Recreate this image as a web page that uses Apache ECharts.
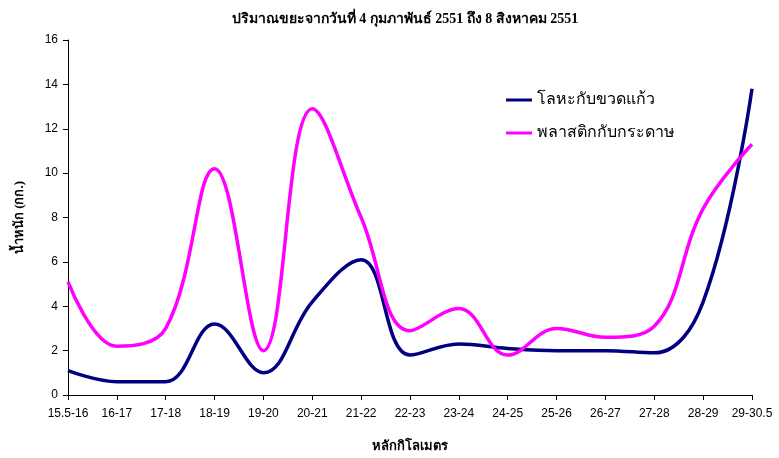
<!DOCTYPE html>
<html>
<head>
<meta charset="utf-8">
<script src="https://cdn.jsdelivr.net/npm/echarts@6/dist/echarts.min.js"></script>
<style>html,body{margin:0;padding:0;background:#fff}#c{width:779px;height:458px}</style>
</head>
<body>
<div id="c"></div>
<script>
const categories = ['15.5-16','16-17','17-18','18-19','19-20','20-21','21-22','22-23','23-24','24-25','25-26','26-27','27-28','28-29','29-30.5'];
const metalGlass = [1.1,0.6,0.6,3.2,1.0,4.2,6.1,1.8,2.3,2.1,2.0,2.0,1.9,4.2,13.8];
const plasticPaper = [5.1,2.2,3.0,10.2,2.0,12.9,8.0,2.9,3.9,1.8,3.0,2.6,3.1,8.4,11.3];
const yTicks = {min:0, max:16, interval:2};

const chart = echarts.init(document.getElementById('c'));
const serif = '"Liberation Serif", "Times New Roman", serif';
const sans = '"Liberation Sans", Arial, sans-serif';
chart.setOption({
  animation:false,
  title:{text:'ปริมาณขยะจากวันที่ 4 กุมภาพันธ์ 2551 ถึง 8 สิงหาคม 2551',left:400,top:7,textAlign:'center',
    textStyle:{fontFamily:serif,fontWeight:'bold',fontSize:14,color:'#000'}},
  legend:{orient:'vertical',left:501,top:87,itemWidth:26,itemHeight:3,itemGap:17,icon:'rect',
    textStyle:{fontFamily:serif,fontSize:16,color:'#000'},
    data:['โลหะกับขวดแก้ว','พลาสติกกับกระดาษ']},
  grid:{left:68,right:27,top:40,bottom:61,containLabel:false},
  xAxis:{type:'category',data:categories,boundaryGap:false,
    name:'หลักกิโลเมตร',nameLocation:'middle',nameGap:45,
    nameTextStyle:{fontFamily:serif,fontWeight:'bold',fontSize:13,color:'#000'},
    axisLine:{lineStyle:{color:'#000',width:1}},
    axisTick:{show:true,length:5,alignWithLabel:true,lineStyle:{color:'#000'}},
    axisLabel:{fontFamily:sans,fontSize:12,color:'#000',margin:13,interval:0}},
  yAxis:{type:'value',min:yTicks.min,max:yTicks.max,interval:yTicks.interval,
    name:'น้ำหนัก (กก.)',nameLocation:'middle',nameGap:42,
    nameTextStyle:{fontFamily:serif,fontWeight:'bold',fontSize:13,color:'#000'},
    axisLine:{show:true,lineStyle:{color:'#000',width:1}},
    axisTick:{show:true,length:5,lineStyle:{color:'#000'}},
    splitLine:{show:false},
    axisLabel:{fontFamily:sans,fontSize:12,color:'#000',margin:10}},
  series:[
    {name:'โลหะกับขวดแก้ว',type:'line',data:metalGlass,smooth:0.4,showSymbol:false,
      lineStyle:{color:'#000080',width:3.5},itemStyle:{color:'#000080'}},
    {name:'พลาสติกกับกระดาษ',type:'line',data:plasticPaper,smooth:0.4,showSymbol:false,
      lineStyle:{color:'#ff00ff',width:3.5},itemStyle:{color:'#ff00ff'}}
  ]
});
</script>
</body>
</html>
